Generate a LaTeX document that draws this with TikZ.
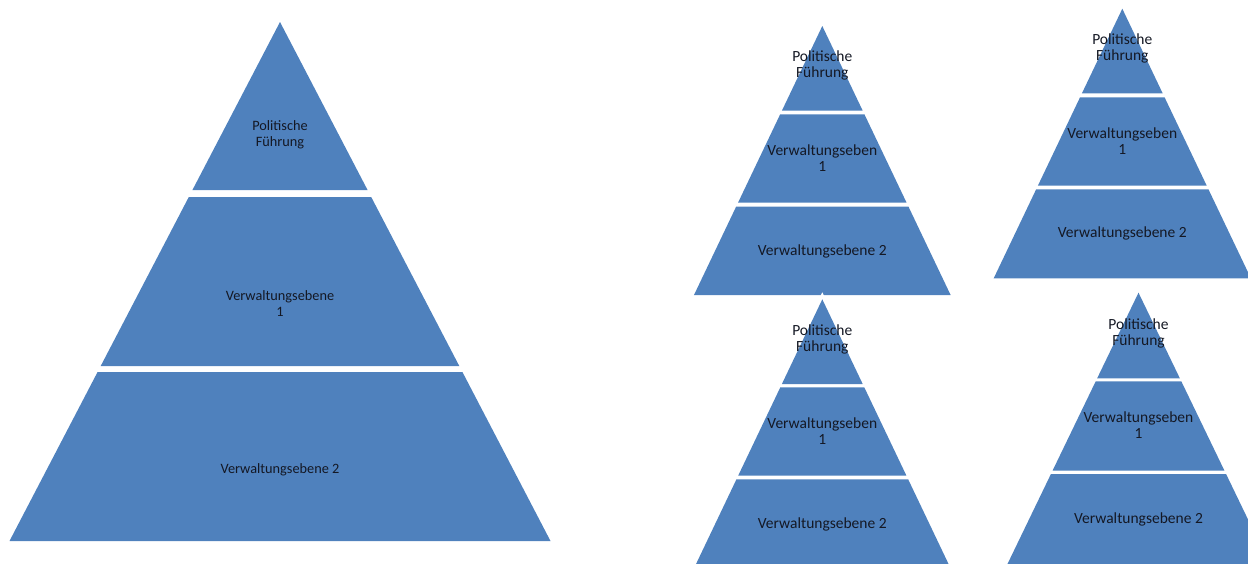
\documentclass[tikz,border=0pt]{standalone}
\usepackage{fontspec}
\setmainfont{Carlito}
\definecolor{pyrblue}{RGB}{79,129,189}
\definecolor{txt}{RGB}{20,24,36}
\newcommand{\layer}[5]{%
  \fill[pyr] ({#1-#3*(#4-#2)},#4) -- ({#1+#3*(#4-#2)},#4) -- ({#1+#3*(#5-#2)},#5) -- ({#1-#3*(#5-#2)},#5) -- cycle;}
\begin{document}
\begin{tikzpicture}[x=1pt,y=-1pt,
  pyr/.style={fill=pyrblue},
  bigtxt/.style={text=txt,inner sep=0pt,align=center,font=\fontsize{14.3}{16.5}\selectfont},
  smalltxt/.style={text=txt,inner sep=0pt,align=center,font=\fontsize{15.5}{16}\selectfont}]
\useasboundingbox (0,0) rectangle (1248,563);
\clip (0,0) rectangle (1248,563);
% big pyramid
\layer{280}{22}{0.5212}{22}{190}
\layer{280}{22}{0.5212}{197}{366}
\layer{280}{22}{0.5212}{372}{541}
\node[bigtxt] (b1) at (280,135) {Politische\\Führung};
\node[bigtxt] (b2) at (280,303.5) {Verwaltungsebene\\1};
\node[bigtxt] (b3) at (280,470) {Verwaltungsebene 2};
% top-left small
\layer{822.3}{26}{0.477}{26}{110.7}
\layer{822.3}{26}{0.477}{114.3}{202.7}
\layer{822.3}{26}{0.477}{206.7}{295}
\node[smalltxt] (t1) at (822.3,65.5) {Politische\\Führung};
\node[smalltxt] (t2) at (822.3,158) {Verwaltungseben\\1};
\node[smalltxt] (t3) at (822.3,251) {Verwaltungsebene 2};
% top-right small
\layer{1122.3}{8.7}{0.477}{8.7}{93.3}
\layer{1122.3}{8.7}{0.477}{97.3}{185.7}
\layer{1122.3}{8.7}{0.477}{189.3}{278.3}
\node[smalltxt] (r1) at (1122.3,48.2) {Politische\\Führung};
\node[smalltxt] (r2) at (1122.3,140.7) {Verwaltungseben\\1};
\node[smalltxt] (r3) at (1122.3,233.7) {Verwaltungsebene 2};
% bottom-left small
\fill[white] (818.8,299.5) -- (822.3,292.3) -- (825.8,299.5) -- cycle;
\layer{822.3}{299.3}{0.477}{299.3}{384}
\layer{822.3}{299.3}{0.477}{387.3}{475.7}
\layer{822.3}{299.3}{0.477}{479.3}{568}
\node[smalltxt] (l1) at (822.3,339) {Politische\\Führung};
\node[smalltxt] (l2) at (822.3,431.3) {Verwaltungseben\\1};
\node[smalltxt] (l3) at (822.3,524.3) {Verwaltungsebene 2};
% bottom-right small
\layer{1138.5}{292.7}{0.483}{292.7}{378.3}
\layer{1138.5}{292.7}{0.483}{381.3}{470.7}
\layer{1138.5}{292.7}{0.483}{474}{570}
\node[smalltxt] (s1) at (1138.5,333) {Politische\\Führung};
\node[smalltxt] (s2) at (1138.5,425) {Verwaltungseben\\1};
\node[smalltxt] (s3) at (1138.5,519.3) {Verwaltungsebene 2};
\end{tikzpicture}
\end{document}
